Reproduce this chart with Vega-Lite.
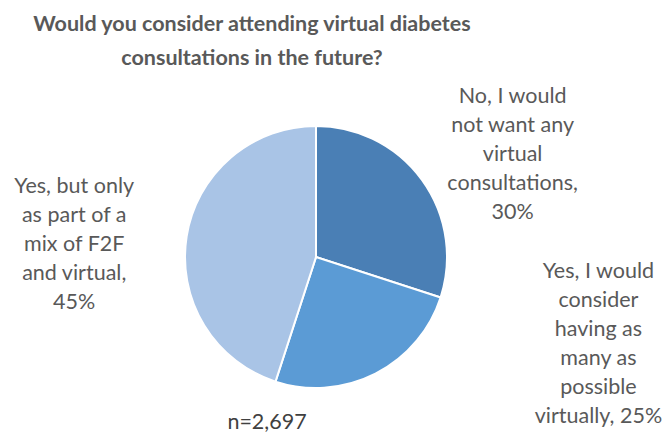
{
  "$schema": "https://vega.github.io/schema/vega-lite/v6.json",
  "width": 632,
  "height": 360,
  "autosize": {"type": "none"},
  "padding": {"top": 77, "left": 0, "right": 34, "bottom": 0},
  "background": "white",
  "title": {
    "text": ["Would you consider attending virtual diabetes", "consultations in the future?"],
    "font": "Lato",
    "fontSize": 21.5,
    "fontWeight": "bold",
    "color": "#595959",
    "anchor": "middle",
    "frame": "group",
    "dx": -64,
    "offset": 8,
    "lineHeight": 34
  },
  "datasets": {
    "answers": [
      {"idx": 1, "category": "No, I would not want any virtual consultations", "label": "No, I would\nnot want any\nvirtual\nconsultations,\n30%", "value": 30},
      {"idx": 2, "category": "Yes, I would consider having as many as possible virtually", "label": "Yes, I would\nconsider\nhaving as\nmany as\npossible\nvirtually, 25%", "value": 25},
      {"idx": 3, "category": "Yes, but only as part of a mix of F2F and virtual", "label": "Yes, but only\nas part of a\nmix of F2F\nand virtual,\n45%", "value": 45}
    ],
    "note": [{"note": "n=2,697"}]
  },
  "layer": [
    {
      "data": {"name": "answers"},
      "mark": {"type": "arc", "outerRadius": 131, "stroke": "white", "strokeWidth": 2},
      "encoding": {
        "theta": {"field": "value", "type": "quantitative", "stack": true},
        "order": {"field": "idx", "type": "quantitative", "sort": "ascending"},
        "color": {
          "field": "category",
          "type": "nominal",
          "scale": {
            "domain": ["No, I would not want any virtual consultations", "Yes, I would consider having as many as possible virtually", "Yes, but only as part of a mix of F2F and virtual"],
            "range": ["#4a7fb5", "#5b9bd5", "#a9c4e6"]
          },
          "legend": null
        }
      }
    },
    {
      "data": {"name": "answers"},
      "mark": {"type": "text", "radius": 180, "dx": 51, "dy": -54, "font": "Lato", "fontSize": 21.5, "color": "#595959", "lineBreak": "\n", "lineHeight": 29, "align": "center", "baseline": "middle"},
      "encoding": {
        "theta": {"field": "value", "type": "quantitative", "stack": true},
        "order": {"field": "idx", "type": "quantitative", "sort": "ascending"},
        "text": {"condition": {"test": "datum.idx === 1", "field": "label"}, "value": ""}
      }
    },
    {
      "data": {"name": "answers"},
      "mark": {"type": "text", "radius": 100, "dx": 237, "dy": -74, "font": "Lato", "fontSize": 21.5, "color": "#595959", "lineBreak": "\n", "lineHeight": 29, "align": "center", "baseline": "middle"},
      "encoding": {
        "theta": {"field": "value", "type": "quantitative", "stack": true},
        "order": {"field": "idx", "type": "quantitative", "sort": "ascending"},
        "text": {"condition": {"test": "datum.idx === 2", "field": "label"}, "value": ""}
      }
    },
    {
      "data": {"name": "answers"},
      "mark": {"type": "text", "radius": 180, "dx": -64, "dy": -42, "font": "Lato", "fontSize": 21.5, "color": "#595959", "lineBreak": "\n", "lineHeight": 29, "align": "center", "baseline": "middle"},
      "encoding": {
        "theta": {"field": "value", "type": "quantitative", "stack": true},
        "order": {"field": "idx", "type": "quantitative", "sort": "ascending"},
        "text": {"condition": {"test": "datum.idx === 3", "field": "label"}, "value": ""}
      }
    },
    {
      "data": {"name": "note"},
      "mark": {"type": "text", "dx": -49, "dy": 166, "font": "Lato", "fontSize": 21.5, "color": "#404040", "align": "center", "baseline": "middle"},
      "encoding": {"text": {"field": "note"}}
    }
  ]
}
